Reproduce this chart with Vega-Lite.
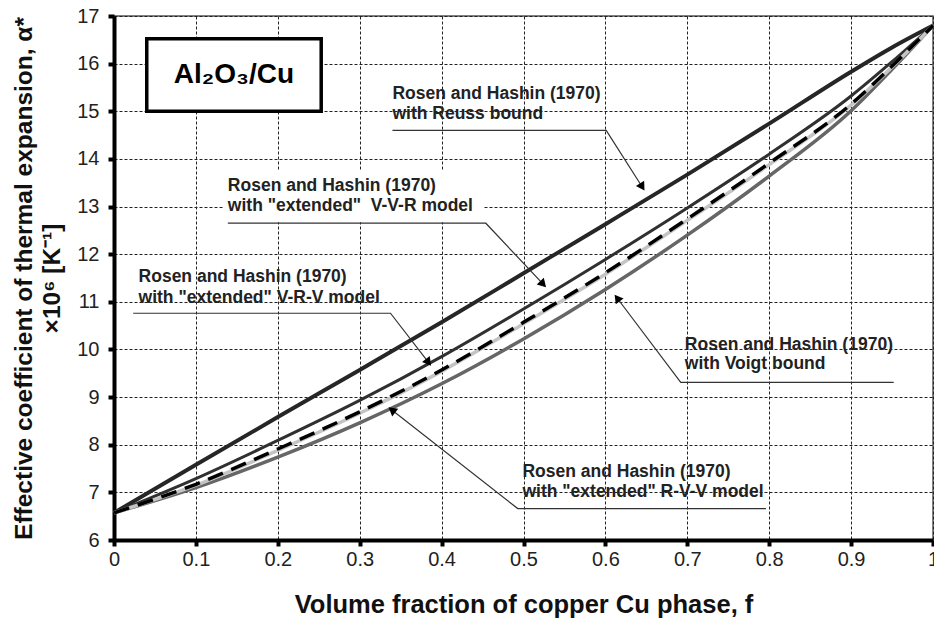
{
  "$schema": "https://vega.github.io/schema/vega-lite/v6.json",
  "width": 819,
  "height": 524,
  "autosize": {"type": "none"},
  "padding": {"left": 114, "top": 16, "right": 1, "bottom": 82},
  "background": "white",
  "config": {
    "view": {"stroke": "#555", "strokeWidth": 1.5},
    "font": "Liberation Sans"
  },
  "datasets": {
    "curves": [
      {"s": "Reuss", "f": 0, "v": 6.57}, {"s": "Reuss", "f": 0.1, "v": 7.58}, {"s": "Reuss", "f": 0.2, "v": 8.58}, {"s": "Reuss", "f": 0.3, "v": 9.57}, {"s": "Reuss", "f": 0.4, "v": 10.57}, {"s": "Reuss", "f": 0.5, "v": 11.6}, {"s": "Reuss", "f": 0.6, "v": 12.63}, {"s": "Reuss", "f": 0.7, "v": 13.67}, {"s": "Reuss", "f": 0.8, "v": 14.74}, {"s": "Reuss", "f": 0.9, "v": 15.83}, {"s": "Reuss", "f": 0.95, "v": 16.34}, {"s": "Reuss", "f": 1, "v": 16.8},
      {"s": "VVR", "f": 0, "v": 6.57}, {"s": "VVR", "f": 0.1, "v": 7.29}, {"s": "VVR", "f": 0.2, "v": 8.09}, {"s": "VVR", "f": 0.3, "v": 8.93}, {"s": "VVR", "f": 0.4, "v": 9.85}, {"s": "VVR", "f": 0.5, "v": 10.85}, {"s": "VVR", "f": 0.6, "v": 11.89}, {"s": "VVR", "f": 0.7, "v": 12.97}, {"s": "VVR", "f": 0.8, "v": 14.1}, {"s": "VVR", "f": 0.9, "v": 15.32}, {"s": "VVR", "f": 0.95, "v": 16.04}, {"s": "VVR", "f": 1, "v": 16.8},
      {"s": "VRV", "f": 0, "v": 6.57}, {"s": "VRV", "f": 0.1, "v": 7.17}, {"s": "VRV", "f": 0.2, "v": 7.91}, {"s": "VRV", "f": 0.3, "v": 8.69}, {"s": "VRV", "f": 0.4, "v": 9.57}, {"s": "VRV", "f": 0.5, "v": 10.57}, {"s": "VRV", "f": 0.6, "v": 11.61}, {"s": "VRV", "f": 0.7, "v": 12.74}, {"s": "VRV", "f": 0.8, "v": 13.91}, {"s": "VRV", "f": 0.9, "v": 15.15}, {"s": "VRV", "f": 0.95, "v": 15.95}, {"s": "VRV", "f": 1, "v": 16.8},
      {"s": "RVV", "f": 0, "v": 6.57}, {"s": "RVV", "f": 0.1, "v": 7.15}, {"s": "RVV", "f": 0.2, "v": 7.88}, {"s": "RVV", "f": 0.3, "v": 8.66}, {"s": "RVV", "f": 0.4, "v": 9.54}, {"s": "RVV", "f": 0.5, "v": 10.54}, {"s": "RVV", "f": 0.6, "v": 11.58}, {"s": "RVV", "f": 0.7, "v": 12.71}, {"s": "RVV", "f": 0.8, "v": 13.88}, {"s": "RVV", "f": 0.9, "v": 15.13}, {"s": "RVV", "f": 0.95, "v": 15.93}, {"s": "RVV", "f": 1, "v": 16.8},
      {"s": "Voigt", "f": 0, "v": 6.57}, {"s": "Voigt", "f": 0.1, "v": 7.1}, {"s": "Voigt", "f": 0.2, "v": 7.74}, {"s": "Voigt", "f": 0.3, "v": 8.46}, {"s": "Voigt", "f": 0.4, "v": 9.28}, {"s": "Voigt", "f": 0.5, "v": 10.22}, {"s": "Voigt", "f": 0.6, "v": 11.26}, {"s": "Voigt", "f": 0.7, "v": 12.4}, {"s": "Voigt", "f": 0.8, "v": 13.64}, {"s": "Voigt", "f": 0.9, "v": 15.01}, {"s": "Voigt", "f": 0.95, "v": 15.88}, {"s": "Voigt", "f": 1, "v": 16.8}
    ],
    "labels": [
      {"f": 0.340, "v": 15.36, "t": "Rosen and Hashin (1970)"},
      {"f": 0.340, "v": 14.94, "t": "with Reuss bound"},
      {"f": 0.139, "v": 13.43, "t": "Rosen and Hashin (1970)"},
      {"f": 0.139, "v": 13.01, "t": "with \"extended\"\u00a0 V-V-R model"},
      {"f": 0.030, "v": 11.52, "t": "Rosen and Hashin (1970)"},
      {"f": 0.030, "v": 11.09, "t": "with \"extended\" V-R-V model"},
      {"f": 0.697, "v": 10.09, "t": "Rosen and Hashin (1970)"},
      {"f": 0.697, "v": 9.69, "t": "with Voigt bound"},
      {"f": 0.4987, "v": 7.42, "t": "Rosen and Hashin (1970)"},
      {"f": 0.4987, "v": 7.0, "t": "with \"extended\" R-V-V model"}
    ],
    "leaders": [
      {"id": "Reuss", "o": 1, "f": 0.340, "v": 14.60}, {"id": "Reuss", "o": 2, "f": 0.601, "v": 14.60}, {"id": "Reuss", "o": 3, "f": 0.645, "v": 13.41},
      {"id": "VVR", "o": 1, "f": 0.139, "v": 12.65}, {"id": "VVR", "o": 2, "f": 0.454, "v": 12.65}, {"id": "VVR", "o": 3, "f": 0.524, "v": 11.37},
      {"id": "VRV", "o": 1, "f": 0.0234, "v": 10.76}, {"id": "VRV", "o": 2, "f": 0.3376, "v": 10.76}, {"id": "VRV", "o": 3, "f": 0.384, "v": 9.73},
      {"id": "Voigt", "o": 1, "f": 0.952, "v": 9.31}, {"id": "Voigt", "o": 2, "f": 0.692, "v": 9.31}, {"id": "Voigt", "o": 3, "f": 0.6143, "v": 11.08},
      {"id": "RVV", "o": 1, "f": 0.796, "v": 6.66}, {"id": "RVV", "o": 2, "f": 0.493, "v": 6.66}, {"id": "RVV", "o": 3, "f": 0.3393, "v": 8.73}
    ],
    "arrows": [
      {"f": 0.645, "v": 13.41, "a": 147.8},
      {"f": 0.524, "v": 11.37, "a": 136.6},
      {"f": 0.384, "v": 9.73, "a": 142.2},
      {"f": 0.6143, "v": 11.08, "a": -37},
      {"f": 0.3393, "v": 8.73, "a": -51.9}
    ],
    "box": [{"f": 0.040, "f2": 0.253, "v": 16.52, "v2": 15.0}],
    "bg": [{"f": 0.134, "f2": 0.451, "v": 13.76, "v2": 12.67}],
    "boxlabel": [{"f": 0.1465, "v": 15.76, "t": "Al₂O₃/Cu"}]
  },
  "encoding": {
    "x": {
      "field": "f", "type": "quantitative",
      "scale": {"domain": [0, 1], "nice": false, "zero": false},
      "axis": {
        "title": "Volume fraction of copper Cu phase, f",
        "values": [0, 0.1, 0.2, 0.3, 0.4, 0.5, 0.6, 0.7, 0.8, 0.9, 1],
        "format": "~g",
        "grid": true, "gridColor": "#222", "gridDash": [3, 2], "gridWidth": 1,
        "domainColor": "#000", "domainWidth": 4,
        "tickColor": "#000", "tickWidth": 4, "tickSize": 6,
        "labelFont": "Liberation Sans", "labelFontSize": 20, "labelColor": "#222", "labelPadding": 3,
        "labelFlush": false, "labelOverlap": false,
        "titleFont": "Liberation Sans", "titleFontSize": 25.5, "titleFontWeight": "bold", "titleColor": "#111",
        "titleBaseline": "alphabetic", "titleY": 72
      }
    },
    "y": {
      "field": "v", "type": "quantitative",
      "scale": {"domain": [6, 17], "nice": false, "zero": false},
      "axis": {
        "title": ["Effective coefficient of thermal expansion, α*", "×10⁶ [K⁻¹]"],
        "values": [6, 7, 8, 9, 10, 11, 12, 13, 14, 15, 16, 17],
        "format": "d",
        "grid": true, "gridColor": "#222", "gridDash": [3, 2], "gridWidth": 1,
        "domainColor": "#000", "domainWidth": 4,
        "tickColor": "#000", "tickWidth": 4, "tickSize": 6,
        "labelFont": "Liberation Sans", "labelFontSize": 20, "labelColor": "#222", "labelPadding": 9,
        "labelFlush": false, "labelOverlap": false,
        "titleFont": "Liberation Sans", "titleFontSize": 24.5, "titleFontWeight": "bold", "titleColor": "#111",
        "titleLineHeight": 28, "titleX": -78
      }
    }
  },
  "layer": [
    {
      "data": {"name": "box"},
      "mark": {"type": "rect", "fill": "white", "stroke": "#000", "strokeWidth": 3.5},
      "encoding": {"x2": {"field": "f2"}, "y2": {"field": "v2"}}
    },
    {
      "data": {"name": "bg"},
      "mark": {"type": "rect", "fill": "white"},
      "encoding": {"x2": {"field": "f2"}, "y2": {"field": "v2"}}
    },
    {
      "data": {"name": "curves"},
      "transform": [{"filter": "datum.s === 'Reuss'"}],
      "mark": {"type": "line", "color": "#262626", "strokeWidth": 4, "interpolate": "monotone"}
    },
    {
      "data": {"name": "curves"},
      "transform": [{"filter": "datum.s === 'VVR'"}],
      "mark": {"type": "line", "color": "#303030", "strokeWidth": 3, "interpolate": "monotone"}
    },
    {
      "data": {"name": "curves"},
      "transform": [{"filter": "datum.s === 'Voigt'"}],
      "mark": {"type": "line", "color": "#666666", "strokeWidth": 3.5, "interpolate": "monotone"}
    },
    {
      "data": {"name": "curves"},
      "transform": [{"filter": "datum.s === 'RVV'"}],
      "mark": {"type": "line", "color": "#c4c4c4", "strokeWidth": 3.5, "interpolate": "monotone"}
    },
    {
      "data": {"name": "curves"},
      "transform": [{"filter": "datum.s === 'VRV'"}],
      "mark": {"type": "line", "color": "#000000", "strokeWidth": 3.5, "strokeDash": [16, 9], "interpolate": "monotone"}
    },
    {
      "data": {"name": "leaders"},
      "mark": {"type": "line", "color": "#333", "strokeWidth": 1.2},
      "encoding": {"detail": {"field": "id"}, "order": {"field": "o", "type": "quantitative"}}
    },
    {
      "data": {"name": "arrows"},
      "mark": {"type": "point", "shape": "triangle-up", "filled": true, "color": "#000", "size": 95, "opacity": 1},
      "encoding": {"angle": {"field": "a", "type": "quantitative", "scale": null}}
    },
    {
      "data": {"name": "labels"},
      "mark": {"type": "text", "align": "left", "baseline": "middle", "font": "Liberation Sans", "fontSize": 17.5, "fontWeight": "bold", "color": "#222"},
      "encoding": {"text": {"field": "t"}}
    },
    {
      "data": {"name": "boxlabel"},
      "mark": {"type": "text", "align": "center", "baseline": "middle", "font": "Liberation Sans", "fontSize": 28, "fontWeight": "bold", "color": "#000"},
      "encoding": {"text": {"field": "t"}}
    }
  ]
}
